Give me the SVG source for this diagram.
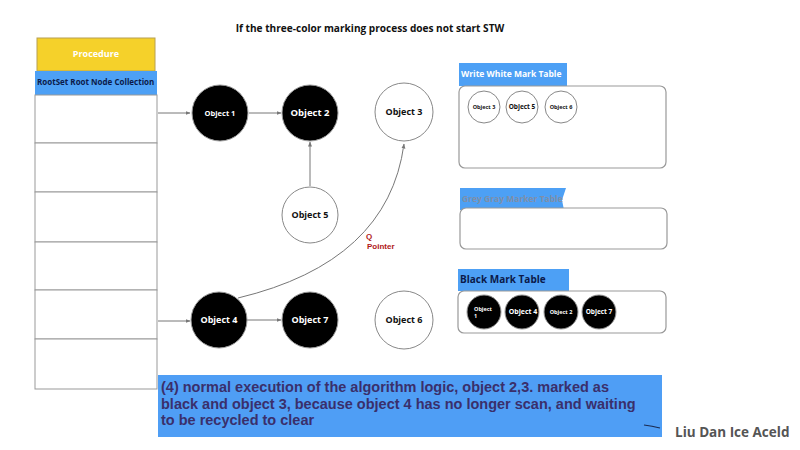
<svg xmlns="http://www.w3.org/2000/svg" width="800" height="450" viewBox="0 0 800 450">
<defs>
<marker id="ah" viewBox="0 0 10 10" refX="9" refY="5" markerWidth="5" markerHeight="5" orient="auto"><path d="M0,1 L10,5 L0,9 z" fill="#777"/></marker>
<style>
text{font-family:"Open Sans","Liberation Sans",sans-serif;font-weight:bold}
.blk{fill:#000;stroke:#999;stroke-width:1}
.wht{fill:#fff;stroke:#888;stroke-width:1}
.lw{fill:#fff;text-anchor:middle}
.lb{fill:#111;text-anchor:middle}
.conn{stroke:#777;stroke-width:1;fill:none;marker-end:url(#ah)}
.tbl{fill:#fff;stroke:#999;stroke-width:1.2}
.hdr{fill:#4da0f5}
.row{fill:#fff;stroke:#999;stroke-width:1}
.note{font-family:"Liberation Sans",Arial,sans-serif;font-size:14.5px;fill:#3a2f6b}
.qp{font-family:"Liberation Sans",Arial,sans-serif;font-size:8px;fill:#b01818}
</style>
</defs>
<rect width="800" height="450" fill="#fff"/>
<text x="370" y="32" font-size="10.1" text-anchor="middle" fill="#111">If the three-color marking process does not start STW</text>

<g id="procedure">
<rect x="37" y="38" width="118" height="33" fill="#f5d12a" stroke="#b8a050" stroke-width="1"/>
<text x="96" y="57" font-size="9" fill="#fff" text-anchor="middle">Procedure</text>
</g>
<g id="rootset">
<rect x="35" y="71" width="122" height="24" class="hdr"/>
<text x="37" y="85" font-size="8" fill="#0b1a4a">RootSet Root Node Collection</text>
<rect x="35" y="95" width="122" height="48" class="row"/>
<rect x="35" y="143" width="122" height="49" class="row"/>
<rect x="35" y="192" width="122" height="50" class="row"/>
<rect x="35" y="242" width="122" height="48" class="row"/>
<rect x="35" y="290" width="122" height="49" class="row"/>
<rect x="35" y="339" width="122" height="50" class="row"/>
</g>

<g id="connectors">
<line x1="158" y1="113" x2="190" y2="113" class="conn"/>
<line x1="249" y1="113" x2="281" y2="113" class="conn"/>
<line x1="310" y1="186" x2="310" y2="142" class="conn"/>
<line x1="158" y1="321" x2="190" y2="321" class="conn"/>
<line x1="247" y1="320" x2="281" y2="320" class="conn"/>
<path d="M238,298 Q388,262 404,144" class="conn"/>
<text x="366" y="239" class="qp" font-weight="bold">Q</text>
<text x="367" y="249" class="qp" font-weight="bold">Pointer</text>
</g>

<g id="object1"><circle cx="220" cy="113" r="28" class="blk"/><text x="220" y="116" font-size="7.5" class="lw">Object 1</text></g>
<g id="object2"><circle cx="310" cy="113" r="28" class="blk"/><text x="310" y="116" font-size="9.5" class="lw">Object 2</text></g>
<g id="object3"><circle cx="404" cy="112" r="29" class="wht"/><text x="404" y="115" font-size="9" class="lb">Object 3</text></g>
<g id="object5"><circle cx="310" cy="215" r="28" class="wht"/><text x="310" y="218" font-size="9" class="lb">Object 5</text></g>
<g id="object4"><circle cx="219" cy="320" r="28" class="blk"/><text x="219" y="323" font-size="9" class="lw">Object 4</text></g>
<g id="object7"><circle cx="310" cy="320" r="28" class="blk"/><text x="310" y="323" font-size="9" class="lw">Object 7</text></g>
<g id="object6"><circle cx="404" cy="320" r="29" class="wht"/><text x="404" y="323" font-size="9" class="lb">Object 6</text></g>

<g id="white-table">
<rect x="459" y="63" width="108" height="23" class="hdr"/>
<text x="461" y="77" font-size="8.5" fill="#fff">Write White Mark Table</text>
<rect x="459" y="86" width="207" height="82" rx="6" class="tbl"/>
<circle cx="484" cy="107" r="16" class="wht"/><text x="484" y="109" font-size="5.5" class="lb">Object 3</text>
<circle cx="522" cy="107" r="16" class="wht"/><text x="522" y="109" font-size="6.5" class="lb">Object 5</text>
<circle cx="561" cy="107" r="16" class="wht"/><text x="561" y="109" font-size="5.5" class="lb">Object 6</text>
</g>

<g id="grey-table">
<path d="M460,188 L566,188 L562,200 L564,210 L460,210 z" class="hdr"/>
<text x="462" y="202" font-size="8.5" fill="#7f8fa8">Grey Gray Marker Table</text>
<rect x="460" y="208" width="207" height="41" rx="6" class="tbl"/>
</g>

<g id="black-table">
<rect x="458" y="269" width="111" height="22" class="hdr"/>
<text x="460" y="283" font-size="10" fill="#0b1a4a">Black Mark Table</text>
<rect x="458" y="291" width="208" height="42" rx="6" class="tbl"/>
<circle cx="484" cy="312" r="17" class="blk"/><text x="474" y="311" font-size="5.5" fill="#fff">Object</text><text x="474" y="318" font-size="5.5" fill="#fff">1</text>
<circle cx="522" cy="312" r="17" class="blk"/><text x="523" y="314" font-size="7" class="lw">Object 4</text>
<circle cx="561" cy="312" r="17" class="blk"/><text x="561" y="314" font-size="5.5" class="lw">Object 2</text>
<circle cx="599" cy="312" r="17" class="blk"/><text x="599" y="314" font-size="6.5" class="lw">Object 7</text>
</g>

<g id="note">
<rect x="158" y="375" width="504" height="62" fill="#4f9ef5"/>
<text class="note" font-weight="bold">
<tspan x="161" y="392">(4) normal execution of the algorithm logic, object 2,3. marked as</tspan>
<tspan x="161" y="408.5">black and object 3, because object 4 has no longer scan, and waiting</tspan>
<tspan x="161" y="425">to be recycled to clear</tspan>
</text>
<path d="M644,425 Q652,426 660,428" stroke="#1a2a50" stroke-width="1.2" fill="none"/>
</g>

<text x="675" y="437" font-size="13.5" fill="#555">Liu Dan Ice Aceld</text>
</svg>
